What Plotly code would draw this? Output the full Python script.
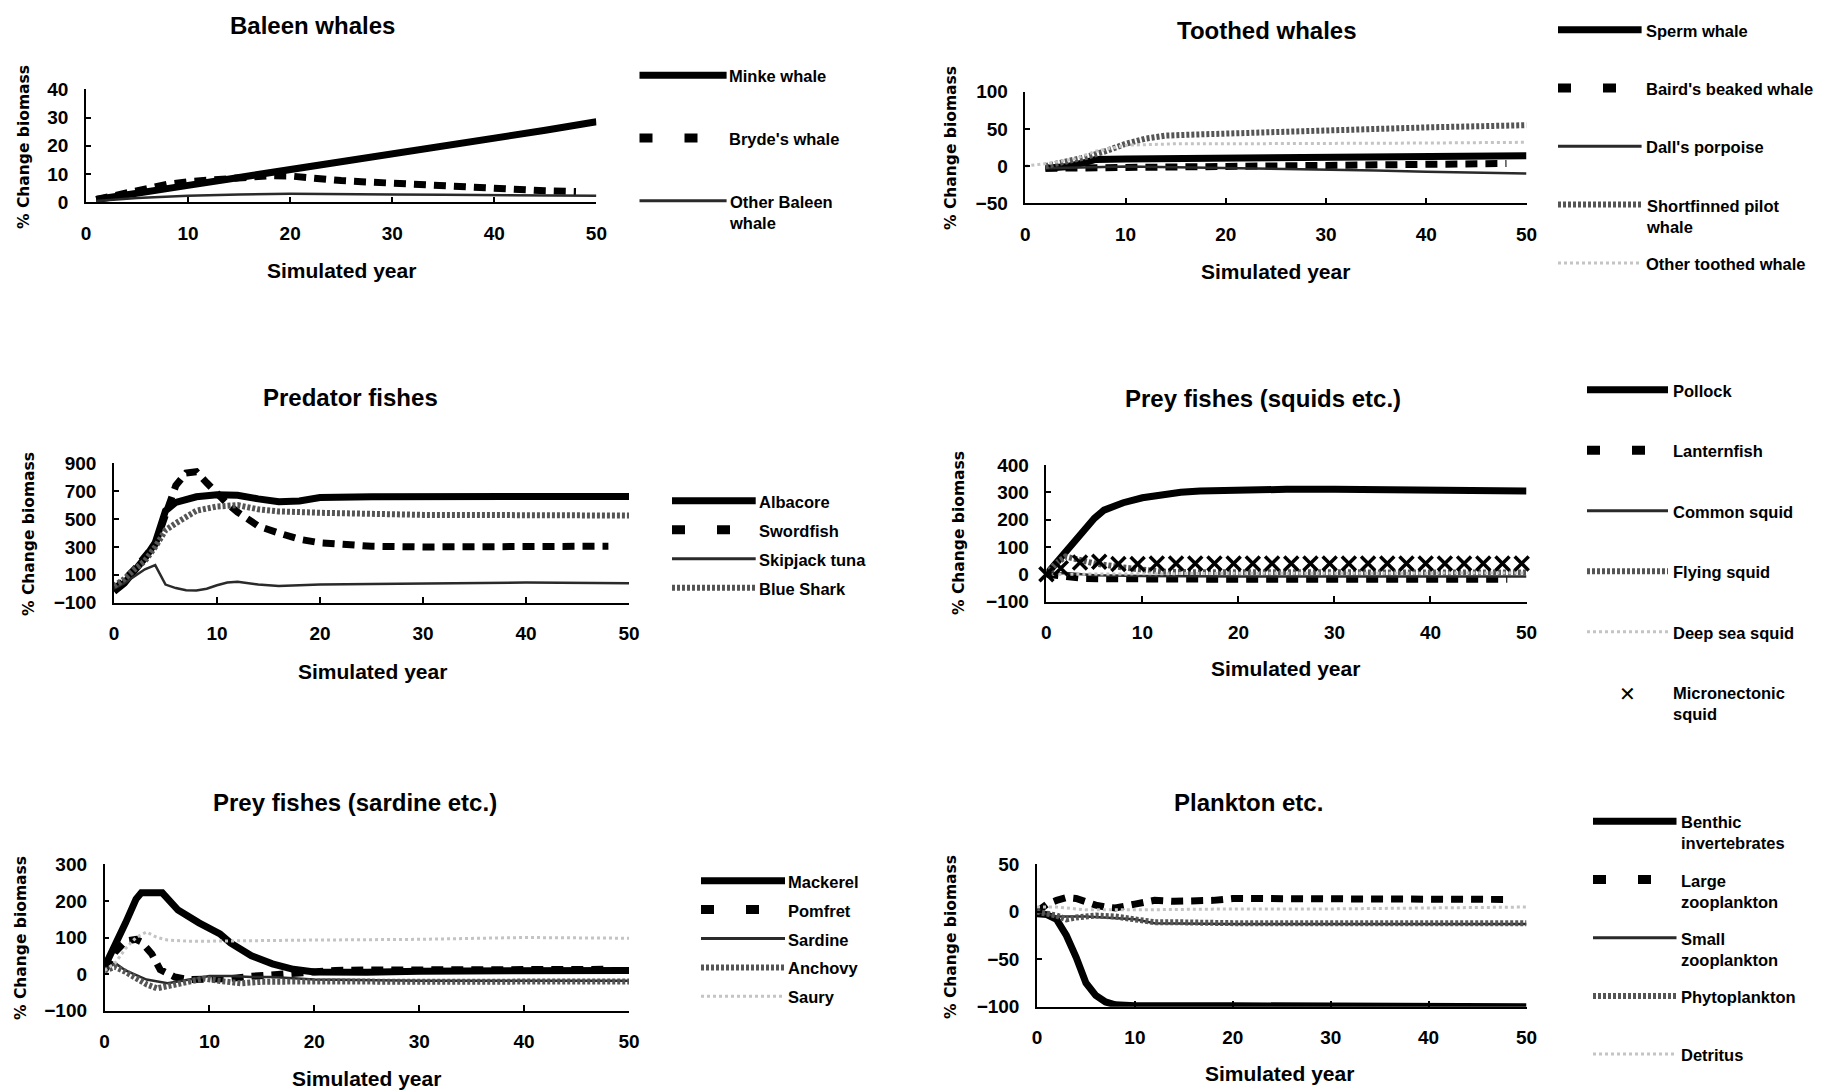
import plotly.graph_objects as go

W, H = 1823, 1091

# ---------------- data ----------------
x_ticks = [0, 10, 20, 30, 40, 50]

# Baleen whales
minke_x = [1, 5, 10, 15, 20, 25, 30, 35, 40, 45, 50]
minke_y = [1, 3, 6, 8.8, 11.5, 14.3, 17, 19.8, 22.6, 25.5, 28.5]
bryde_x = [1, 3, 5, 8, 10, 12, 14, 16, 18, 20, 22, 25, 27, 30, 33, 35, 37, 40, 43, 45, 48]
bryde_y = [1, 2.5, 4.4, 6.4, 7.3, 7.9, 8.6, 9.1, 9.4, 9.3, 8.5, 7.7, 7.3, 6.7, 6.1, 5.9, 5.3, 4.7, 4.4, 4.1, 3.8]
other_baleen_x = [1, 5, 10, 15, 20, 25, 30, 35, 40, 45, 50]
other_baleen_y = [0.5, 1.5, 2.3, 2.8, 3.0, 3.0, 2.8, 2.7, 2.5, 2.4, 2.3]
baleen_yticks = [0, 10, 20, 30, 40]

# Toothed whales
sperm_x = [2, 4, 6, 7, 10, 15, 20, 25, 30, 35, 40, 45, 50]
sperm_y = [-3, -1, 5, 9, 9.5, 10, 10.5, 11, 11.5, 12, 12.5, 13, 14]
baird_x = [2, 5, 10, 15, 20, 25, 30, 35, 40, 45, 48]
baird_y = [-3, -2.5, -2, -1.5, 0, 1, 2, 3, 3.5, 3.5, 3.5]
dall_x = [2, 5, 10, 15, 20, 25, 30, 35, 40, 45, 50]
dall_y = [-3, -2, -0.5, -1.5, -2.5, -3.5, -4.5, -6, -7.5, -9, -10]
pilot_x = [2, 4, 6, 8, 10, 12, 14, 16, 20, 25, 30, 35, 40, 45, 50]
pilot_y = [0, 5, 12, 20, 30, 37, 41, 42, 44, 46, 47.5, 50, 52, 53.5, 55]
other_toothed_x = [0, 3, 5, 7, 10, 15, 20, 30, 40, 50]
other_toothed_y = [0, 5, 10, 20, 28, 30, 30, 30, 31, 32]
toothed_yticks = [-50, 0, 50, 100]

# Predator fishes
albacore_x = [0, 1, 2, 3, 4, 5, 6, 8, 10, 12, 14, 16, 18, 20, 25, 30, 40, 50]
albacore_y = [-20, 40, 130, 220, 330, 560, 620, 660, 675, 670, 645, 625, 630, 655, 660, 662, 668, 662]
swordfish_x = [0, 2, 4, 5, 6, 7, 8, 9, 10, 11, 12, 14, 16, 18, 20, 22, 25, 30, 40, 48]
swordfish_y = [-10, 140, 320, 550, 740, 830, 840, 760, 680, 610, 550, 450, 400, 355, 330, 315, 305, 300, 300, 305]
skipjack_x = [0, 1, 2, 3, 4, 5, 6, 7, 8, 9, 10, 11, 12, 14, 16, 20, 25, 30, 40, 50]
skipjack_y = [0, 40, 90, 140, 170, 30, 5, -10, -12, 0, 25, 45, 50, 30, 20, 30, 35, 40, 45, 40]
blueshark_x = [0, 1, 2, 3, 4, 5, 6, 8, 10, 12, 14, 16, 20, 25, 30, 40, 50]
blueshark_y = [20, 70, 140, 200, 300, 420, 470, 560, 590, 600, 570, 555, 545, 533, 530, 528, 525]
predator_yticks = [-100, 100, 300, 500, 700, 900]

# Prey fishes (squids etc.)
pollock_x = [0, 1, 2, 3, 4, 5, 6, 8, 10, 12, 14, 16, 18, 20, 25, 30, 40, 50]
pollock_y = [0, 40, 85, 128, 168, 205, 235, 262, 280, 292, 300, 305, 307, 309, 311, 311, 310, 305]
lanternfish_x = [0, 1, 2, 4, 6, 10, 20, 30, 40, 48]
lanternfish_y = [0, -5, -9, -15, -16, -18, -18, -18, -18, -18]
common_squid_x = [0, 2, 5, 10, 20, 30, 40, 50]
common_squid_y = [0, 5, -3, -6, -8, -8, -8, -8]
flying_squid_x = [0, 1, 2, 3, 5, 8, 10, 12, 15, 20, 30, 40, 50]
flying_squid_y = [0, 40, 65, 55, 40, 25, 15, 10, 8, 7, 7, 7, 7]
deep_squid_x = [0, 10, 20, 30, 40, 50]
deep_squid_y = [0, 3, 4, 4, 5, 5]
micro_squid_x = [0, 1.5, 3.5, 5.5, 7.5, 9.5, 11.5, 13.5, 15.5, 17.5, 19.5, 21.5, 23.5, 25.5,
                 27.5, 29.5, 31.5, 33.5, 35.5, 37.5, 39.5, 41.5, 43.5, 45.5, 47.5, 49.5]
micro_squid_y = [0, 22, 43, 46, 38, 38, 40, 40, 40, 40, 40, 40, 40, 40,
                 40, 40, 40, 40, 40, 40, 40, 40, 40, 40, 40, 40]
squid_yticks = [-100, 0, 100, 200, 300, 400]

# Prey fishes (sardine etc.)
mackerel_x = [0, 1, 2, 3, 3.5, 5.5, 7, 9, 11, 12, 14, 16, 18, 20, 22, 25, 30, 40, 50]
mackerel_y = [20, 75, 140, 205, 222, 222, 175, 140, 110, 85, 50, 28, 13, 6, 4, 5, 8, 10, 10]
pomfret_x = [0, 1, 2, 3, 3.5, 4.5, 5.3, 6.7, 8, 10, 12, 14, 15.5, 18, 20, 22, 25, 30, 35, 40, 48]
pomfret_y = [10, 60, 90, 95, 88, 55, 12, -8, -15, -15, -12, -6, -3, 5, 8, 10, 11, 12, 13, 13, 13]
sardine_x = [0, 1, 2, 4, 6, 8, 10, 12, 14, 16, 20, 30, 40, 50]
sardine_y = [10, 30, 10, -15, -25, -15, -5, -5, -8, -8, -15, -18, -18, -18]
anchovy_x = [0, 1, 2, 3, 4, 5, 6.5, 8, 9.5, 11, 13, 15, 18, 20, 30, 40, 50]
anchovy_y = [10, 20, 6, -12, -28, -39, -30, -21, -12, -19, -25, -21, -19, -20, -21, -21, -20]
saury_x = [0, 1, 2, 3, 4, 5, 6, 8, 10, 15, 20, 30, 40, 50]
saury_y = [10, 30, 70, 100, 115, 100, 93, 90, 90, 92, 93, 95, 100, 98]
sardine_yticks = [-100, 0, 100, 200, 300]

# Plankton etc.
benthic_x = [0, 1, 2, 3, 4, 5, 6, 7, 8, 10, 20, 30, 40, 50]
benthic_y = [-2, -3, -8, -25, -48, -75, -88, -95, -98, -99, -99, -99, -99, -100]
large_zoo_x = [0, 1, 2, 3, 4, 5, 6, 7, 8, 10, 12, 14, 16, 18, 20, 25, 30, 40, 48]
large_zoo_y = [0, 8, 12, 15, 14, 10, 7, 5, 4, 8, 12, 11, 11, 12, 14, 14, 14, 13, 13]
small_zoo_x = [0, 2, 5, 10, 12, 20, 30, 40, 50]
small_zoo_y = [0, -5, -5, -8, -12, -13, -13, -13, -13]
phyto_x = [0, 2, 3, 4, 6, 8, 10, 12, 14, 20, 30, 50]
phyto_y = [0, -4, -8, -6, -4, -5, -8, -11, -11, -12, -12, -12]
detritus_x = [0, 2, 5, 10, 20, 30, 40, 50]
detritus_y = [5, 5, 2, 2, 3, 3, 4, 5]
plankton_yticks = [-100, -50, 0, 50]

panels = [
    dict(title="Baleen whales", yticks=baleen_yticks, series=[
        ("Minke whale", minke_x, minke_y, "solid"),
        ("Bryde's whale", bryde_x, bryde_y, "dash"),
        ("Other Baleen<br>whale", other_baleen_x, other_baleen_y, "thin"),
    ]),
    dict(title="Toothed whales", yticks=toothed_yticks, series=[
        ("Sperm whale", sperm_x, sperm_y, "solid"),
        ("Baird's beaked whale", baird_x, baird_y, "dash"),
        ("Dall's porpoise", dall_x, dall_y, "thin"),
        ("Shortfinned pilot<br>whale", pilot_x, pilot_y, "hatch"),
        ("Other toothed whale", other_toothed_x, other_toothed_y, "light"),
    ]),
    dict(title="Predator fishes", yticks=predator_yticks, series=[
        ("Albacore", albacore_x, albacore_y, "solid"),
        ("Swordfish", swordfish_x, swordfish_y, "dash"),
        ("Skipjack tuna", skipjack_x, skipjack_y, "thin"),
        ("Blue Shark", blueshark_x, blueshark_y, "hatch"),
    ]),
    dict(title="Prey fishes (squids etc.)", yticks=squid_yticks, series=[
        ("Pollock", pollock_x, pollock_y, "solid"),
        ("Lanternfish", lanternfish_x, lanternfish_y, "dash"),
        ("Common squid", common_squid_x, common_squid_y, "thin"),
        ("Flying squid", flying_squid_x, flying_squid_y, "hatch"),
        ("Deep sea squid", deep_squid_x, deep_squid_y, "light"),
        ("Micronectonic<br>squid", micro_squid_x, micro_squid_y, "cross"),
    ]),
    dict(title="Prey fishes (sardine etc.)", yticks=sardine_yticks, series=[
        ("Mackerel", mackerel_x, mackerel_y, "solid"),
        ("Pomfret", pomfret_x, pomfret_y, "dash"),
        ("Sardine", sardine_x, sardine_y, "thin"),
        ("Anchovy", anchovy_x, anchovy_y, "hatch"),
        ("Saury", saury_x, saury_y, "light"),
    ]),
    dict(title="Plankton etc.", yticks=plankton_yticks, series=[
        ("Benthic<br>invertebrates", benthic_x, benthic_y, "solid"),
        ("Large<br>zooplankton", large_zoo_x, large_zoo_y, "dash"),
        ("Small<br>zooplankton", small_zoo_x, small_zoo_y, "thin"),
        ("Phytoplankton", phyto_x, phyto_y, "hatch"),
        ("Detritus", detritus_x, detritus_y, "light"),
    ]),
]

# ---------------- geometry (pixels in the 1823x1091 page) ----------------
# plot box: x_left, x_right, y_top, y_bottom
boxes = [
    (86, 596.4, 89.3, 202.3),
    (1025.4, 1526.5, 91.7, 203.3),
    (114, 629, 463.3, 602.7),
    (1046.4, 1526.5, 465, 601.7),
    (104.6, 629, 864.3, 1010.7),
    (1037, 1526.5, 864.3, 1006.7),
]
titles_pos = [(312, 25), (1267, 30), (350, 397), (1263, 398), (355, 802), (1248, 802)]
ytitle_pos = [(24, 147), (951, 148), (29, 534), (959, 533), (21, 938), (951, 937)]
xtitle_pos = [(341, 270), (1275, 272), (372, 671), (1285, 668), (366, 1078), (1279, 1073)]
# legend: key x0, key x1, text x, first text y, spacing
legends = [
    (639.5, 726.6, 728, 77.3, 62.7),
    (1558, 1641.6, 1645, 31.7, 58.3),
    (672, 755.7, 758, 502.7, 29),
    (1587, 1668, 1672, 391.7, 60.5),
    (701, 785, 787, 882.7, 28.9),
    (1593, 1676.5, 1680, 823.3, 58.2),
]

def fx(px):
    return px / W

def fy(py):
    return 1 - py / H

LINE = {
    "solid": dict(color="black", width=7),
    "dash": dict(color="black", width=7, dash="12px,8px"),
    "thin": dict(color="#2a2a2a", width=2.5),
    "hatch": dict(color="#555555", width=6, dash="3px,2px"),
    "light": dict(color="#c4c4c4", width=3, dash="dot"),
}
KEY = {
    "solid": dict(color="black", width=7),
    "dash": dict(color="black", width=9, dash="13px,32px"),
    "thin": dict(color="#2a2a2a", width=3),
    "hatch": dict(color="#555555", width=6, dash="3px,2px"),
    "light": dict(color="#c4c4c4", width=3, dash="dot"),
}

FONT = "Liberation Sans, Arial, sans-serif"
tickfont = dict(family=FONT, size=19, color="black", weight="bold")

fig = go.Figure()
layout = dict(
    width=W, height=H, margin=dict(l=0, r=0, t=0, b=0, pad=0, autoexpand=False),
    paper_bgcolor="white", plot_bgcolor="white", showlegend=False,
)
annotations = []
shapes = []

for i, p in enumerate(panels):
    n = "" if i == 0 else str(i + 1)
    xref, yref = "x" + n, "y" + n
    for name, xs, ys, st in p["series"]:
        if st == "cross":
            fig.add_trace(go.Scatter(x=xs, y=ys, mode="markers", name=name,
                                     marker=dict(symbol="x-thin", size=14,
                                                 line=dict(width=3.5, color="black")),
                                     xaxis=xref, yaxis=yref, cliponaxis=False))
        else:
            fig.add_trace(go.Scatter(x=xs, y=ys, mode="lines", name=name,
                                     line=LINE[st], xaxis=xref, yaxis=yref))
    x0, x1, yt, yb = boxes[i]
    yt_vals = p["yticks"]
    layout["xaxis" + n] = dict(
        domain=[fx(x0), fx(x1)], anchor=yref, range=[0, 50], tickvals=x_ticks,
        ticks="inside", ticklen=6, tickwidth=1.5, tickcolor="black",
        showline=True, linecolor="black", linewidth=1.5, automargin=False,
        showgrid=False, zeroline=False, tickfont=tickfont, ticklabelstandoff=13,
    )
    layout["yaxis" + n] = dict(
        domain=[fy(yb), fy(yt)], anchor=xref, range=[min(yt_vals), max(yt_vals)],
        tickvals=yt_vals, ticks="inside", ticklen=5, tickwidth=1.5, tickcolor="black",
        showline=True, linecolor="black", linewidth=1.5, automargin=False,
        showgrid=False, zeroline=False, tickfont=tickfont, ticklabelstandoff=12,
    )
    # titles
    tx, ty = titles_pos[i]
    annotations.append(dict(text=p["title"], x=fx(tx), y=fy(ty), xref="paper", yref="paper",
                            xanchor="center", yanchor="middle", showarrow=False,
                            font=dict(family=FONT, size=24, color="black", weight="bold")))
    ax, ay = ytitle_pos[i]
    annotations.append(dict(text="% Change biomass", x=fx(ax), y=fy(ay), xref="paper", yref="paper",
                            xanchor="center", yanchor="middle", showarrow=False, textangle=-90,
                            font=dict(family="DejaVu Sans", size=15.5, color="black", weight="bold")))
    sx, sy = xtitle_pos[i]
    annotations.append(dict(text="Simulated year", x=fx(sx), y=fy(sy), xref="paper", yref="paper",
                            xanchor="center", yanchor="middle", showarrow=False,
                            font=dict(family=FONT, size=21, color="black", weight="bold")))
    # legend
    kx0, kx1, ltx, ly0, lsp = legends[i]
    for j, (name, xs, ys, st) in enumerate(p["series"]):
        cy = ly0 + j * lsp
        annotations.append(dict(text=name, x=fx(ltx), y=fy(cy - 11), xref="paper", yref="paper",
                                xanchor="left", yanchor="top", align="left", showarrow=False,
                                borderpad=0,
                                font=dict(family=FONT, size=16.5, color="black", weight="bold")))
        if st == "cross":
            annotations.append(dict(text="✕", x=fx((kx0 + kx1) / 2), y=fy(cy), xref="paper",
                                    yref="paper", xanchor="center", yanchor="middle",
                                    showarrow=False,
                                    font=dict(family="DejaVu Sans", size=20, color="black",
                                              weight="bold")))
        else:
            shapes.append(dict(type="line", xref="paper", yref="paper",
                               x0=fx(kx0), x1=fx(kx1), y0=fy(cy - 2), y1=fy(cy - 2),
                               line=KEY[st]))

layout["annotations"] = annotations
layout["shapes"] = shapes
fig.update_layout(**layout)
fig.write_html(
    "out.html",
    config={"displayModeBar": False},
    post_script="document.body.style.margin='0';document.body.style.overflow='hidden';",
)
